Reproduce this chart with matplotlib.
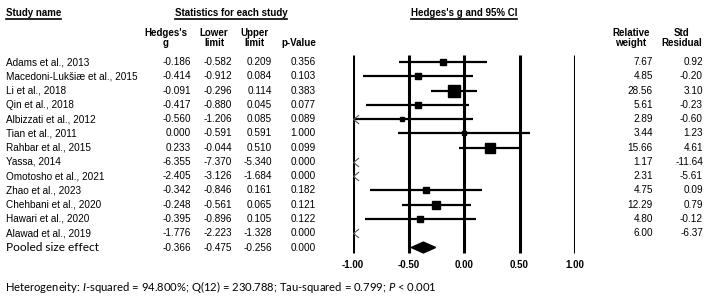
import numpy as np
import matplotlib.pyplot as plt
from matplotlib.patches import Polygon
from matplotlib.lines import Line2D
from matplotlib.transforms import blended_transform_factory

plt.rcParams['font.family'] = ['Liberation Sans', 'DejaVu Sans']
plt.rcParams['mathtext.fontset'] = 'custom'
plt.rcParams['mathtext.rm'] = 'Lato'
plt.rcParams['mathtext.it'] = 'Lato:italic'

studies = ["Adams et al., 2013", "Macedoni-Lukšiæ et al., 2015", "Li et al., 2018",
           "Qin et al., 2018", "Albizzati et al., 2012", "Tian et al., 2011",
           "Rahbar et al., 2015", "Yassa, 2014", "Omotosho et al., 2021",
           "Zhao et al., 2023", "Chehbani et al., 2020", "Hawari et al., 2020",
           "Alawad et al., 2019"]
g = [-0.186, -0.414, -0.091, -0.417, -0.560, 0.000, 0.233, -6.355, -2.405,
     -0.342, -0.248, -0.395, -1.776]
lower = [-0.582, -0.912, -0.296, -0.880, -1.206, -0.591, -0.044, -7.370, -3.126,
         -0.846, -0.561, -0.896, -2.223]
upper = [0.209, 0.084, 0.114, 0.045, 0.085, 0.591, 0.510, -5.340, -1.684,
         0.161, 0.065, 0.105, -1.328]
p_value = [0.356, 0.103, 0.383, 0.077, 0.089, 1.000, 0.099, 0.000, 0.000,
           0.182, 0.121, 0.122, 0.000]
weight = [7.67, 4.85, 28.56, 5.61, 2.89, 3.44, 15.66, 1.17, 2.31, 4.75, 12.29, 4.80, 6.00]
std_resid = [0.92, -0.20, 3.10, -0.23, -0.60, 1.23, 4.61, -11.64, -5.61, 0.09, 0.79, -0.12, -6.37]

pooled_label = "Pooled size effect"
pooled_g, pooled_lower, pooled_upper, pooled_p = -0.366, -0.475, -0.256, 0.000

ticks = [-1.0, -0.5, 0.0, 0.5, 1.0]
hetero = ("Heterogeneity: $I$-squared = 94.800%; Q(12) = 230.788; "
          "Tau-squared = 0.799; $P$ < 0.001")

W, H = 712, 300
fig = plt.figure(figsize=(W / 100, H / 100), dpi=100)

# forest panel: x in effect units, y in row units (row 0 at pixel 62, 14.27 px per row)
row_px, row0 = 14.27, 62
ax = fig.add_axes([353 / W, 0, 222 / W, 1])
ax.set_xlim(-1, 1)
ax.set_ylim((H - row0) / row_px, -row0 / row_px)
ax.axis('off')

def row(py):
    return (py - row0) / row_px

ax.vlines(ticks, row(55), row(253), color='black', lw=2.2)
for t in ticks:
    ax.text(t, row(265), f"{t:.2f}", ha='center', va='center', fontsize=7, fontweight='bold')

chevron = [(1, 0.8), (0, 0), (1, -0.8)]
for i in range(len(studies)):
    lo, hi = max(lower[i], -1), min(upper[i], 1)
    if hi > -1:
        ax.plot([lo, hi], [i, i], color='black', lw=1.6, solid_capstyle='butt')
    if -1 <= g[i] <= 1:
        side = 2.3 * np.sqrt(weight[i]) * 0.72
        ax.plot(g[i], i, marker='s', ms=side, color='black', mec='black')
    if lower[i] < -1:
        ax.plot(-1, i, marker=chevron, ms=8, mfc='none', mec='#555555', mew=0.8)

k = len(studies)
ax.add_patch(Polygon([(pooled_lower, k), (pooled_g, k - 0.38), (pooled_upper, k), (pooled_g, k + 0.38)],
                     closed=True, color='black'))

# table text
tr = blended_transform_factory(fig.transFigure, ax.transData)
fs = 7.2
cols = [(191, g, "{:.3f}"), (232, lower, "{:.3f}"), (272, upper, "{:.3f}"),
        (316, p_value, "{:.3f}"), (653, weight, "{:.2f}"), (703, std_resid, "{:.2f}")]
for i, name in enumerate(studies):
    ax.text(6 / W, i, name, transform=tr, ha='left', va='center', fontsize=fs)
    for px, vals, f in cols:
        ax.text(px / W, i, f.format(vals[i]), transform=tr, ha='right', va='center', fontsize=fs)

ax.text(6 / W, k, pooled_label, transform=tr, ha='left', va='center', fontsize=8.6, family='Lato')
for px, v in zip([191, 232, 272, 316], [pooled_g, pooled_lower, pooled_upper, pooled_p]):
    ax.text(px / W, k, f"{v:.3f}", transform=tr, ha='right', va='center', fontsize=fs)

def ftext(px, py, s, **kw):
    return fig.text(px / W, 1 - py / H, s, va='center', fontsize=7, fontweight='bold', **kw)

heads = [ftext(6, 13, "Study name", ha='left'),
         ftext(231, 13, "Statistics for each study", ha='center'),
         ftext(464, 13, "Hedges's g and 95% CI", ha='center')]
for px, top, bottom in [(166, "Hedges's", "g"), (214, "Lower", "limit"), (254, "Upper", "limit"),
                        (631, "Relative", "weight"), (682, "Std", "Residual")]:
    ftext(px, 33, top, ha='center')
    ftext(px, 43, bottom, ha='center')
ftext(299, 43, "p-Value", ha='center')

fig.text(5 / W, 1 - 287 / H, hetero, ha='left', va='center', fontsize=8.15, family='Lato')

fig.canvas.draw()
for t in heads:
    bb = t.get_window_extent()
    fig.add_artist(Line2D([bb.x0 / W, bb.x1 / W], [(bb.y0 - 1) / H] * 2,
                          transform=fig.transFigure, color='black', lw=1.2))

fig.savefig("out.png", dpi=100)
